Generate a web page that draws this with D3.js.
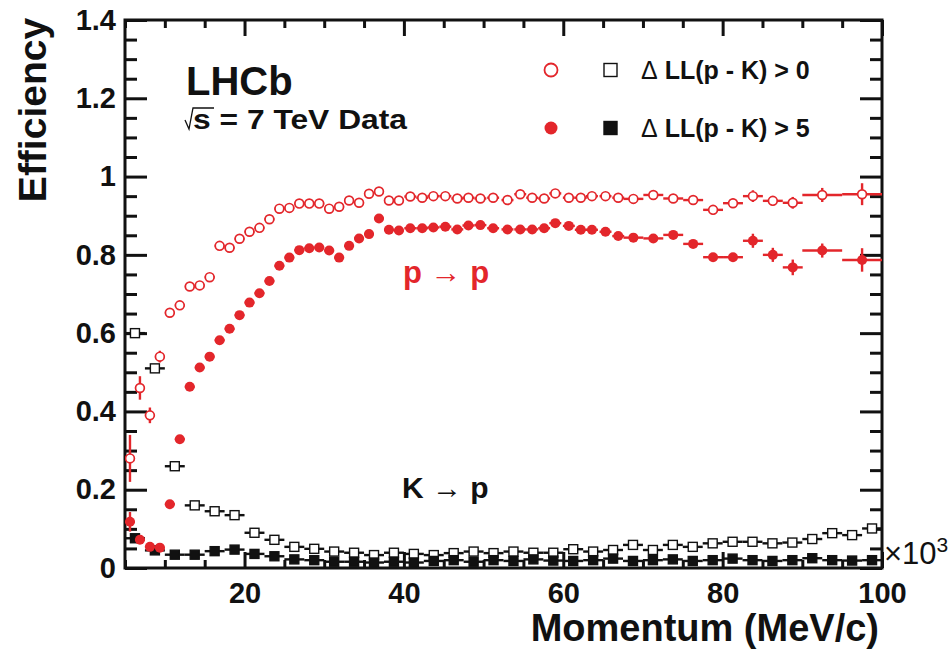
<!DOCTYPE html>
<html>
<head>
<meta charset="utf-8">
<script src="https://cdn.jsdelivr.net/npm/d3@7"></script>
<style>
  body { margin: 0; background: #fff; }
  text { font-family: "Liberation Sans", Arial, Helvetica, sans-serif; }
</style>
</head>
<body>
<svg id="chart" width="948" height="651"></svg>
<script>
// p -> p : bin centres (GeV/c), half widths, efficiencies and errors
const pMom = [5.625, 6.875, 8.125, 9.375, 10.625, 11.875, 13.125, 14.375, 15.625, 16.875,
  18.125, 19.375, 20.625, 21.875, 23.125, 24.375, 25.625, 26.875, 28.125, 29.375,
  30.625, 31.875, 33.125, 34.375, 35.625, 36.875, 38.125, 39.375,
  40.8, 42.3, 43.7, 45.2, 46.7, 48.1, 49.6, 51.2, 53.0, 54.6, 56.1, 57.6, 59.0, 60.7,
  62.2, 63.6, 65.3, 66.9, 68.8, 71.3, 73.8, 76.3, 78.8, 81.3, 83.8, 86.3, 88.8, 92.5, 97.5];
const pHalf = [0.625, 0.625, 0.625, 0.625, 0.625, 0.625, 0.625, 0.625, 0.625, 0.625,
  0.625, 0.625, 0.625, 0.625, 0.625, 0.625, 0.625, 0.625, 0.625, 0.625,
  0.625, 0.625, 0.625, 0.625, 0.625, 0.625, 0.625, 0.625,
  0.75, 0.75, 0.75, 0.75, 0.75, 0.75, 0.75, 0.75, 0.75, 0.75, 0.75, 0.75, 0.75, 0.75,
  0.75, 0.75, 0.75, 0.75, 1.25, 1.25, 1.25, 1.25, 1.25, 1.25, 1.25, 1.25, 1.25, 2.5, 2.5];
// DLL(p-K) > 0
const pEffLoose = [0.28, 0.46, 0.39, 0.54, 0.652, 0.671, 0.719, 0.722, 0.743, 0.823,
  0.818, 0.841, 0.859, 0.869, 0.891, 0.918, 0.920, 0.931, 0.931, 0.931,
  0.918, 0.923, 0.939, 0.933, 0.956, 0.962, 0.939, 0.939,
  0.949, 0.946, 0.950, 0.950, 0.944, 0.946, 0.944, 0.946, 0.940, 0.955, 0.946, 0.944, 0.957, 0.946,
  0.946, 0.950, 0.950, 0.946, 0.943, 0.953, 0.944, 0.940, 0.915, 0.932, 0.950, 0.938, 0.933, 0.953, 0.955];
const pErrLoose = [0.06, 0.03, 0.02, 0.015, 0.01, 0.01, 0.008, 0.008, 0.008, 0.008,
  0.008, 0.008, 0.008, 0.008, 0.008, 0.008, 0.008, 0.008, 0.008, 0.008,
  0.008, 0.008, 0.008, 0.008, 0.008, 0.008, 0.008, 0.008,
  0.006, 0.006, 0.006, 0.006, 0.006, 0.006, 0.006, 0.006, 0.006, 0.006, 0.006, 0.006, 0.006, 0.006,
  0.006, 0.006, 0.006, 0.006, 0.012, 0.01, 0.01, 0.01, 0.012, 0.012, 0.015, 0.012, 0.015, 0.018, 0.028];
// DLL(p-K) > 5
const pEffTight = [0.118, 0.072, 0.054, 0.052, 0.163, 0.329, 0.463, 0.512, 0.540, 0.582,
  0.611, 0.646, 0.678, 0.702, 0.733, 0.772, 0.793, 0.812, 0.817, 0.819,
  0.811, 0.793, 0.823, 0.842, 0.853, 0.893, 0.864, 0.862,
  0.868, 0.868, 0.870, 0.872, 0.865, 0.875, 0.876, 0.868, 0.865, 0.865, 0.865, 0.868, 0.881, 0.874,
  0.864, 0.864, 0.859, 0.848, 0.844, 0.842, 0.851, 0.828, 0.794, 0.794, 0.836, 0.800, 0.768, 0.811, 0.787];
const pErrTight = [0.025, 0.01, 0.008, 0.008, 0.01, 0.01, 0.01, 0.008, 0.008, 0.008,
  0.008, 0.008, 0.008, 0.008, 0.008, 0.008, 0.008, 0.008, 0.008, 0.008,
  0.008, 0.008, 0.008, 0.008, 0.008, 0.008, 0.008, 0.008,
  0.006, 0.006, 0.006, 0.006, 0.006, 0.006, 0.006, 0.006, 0.006, 0.006, 0.006, 0.006, 0.006, 0.006,
  0.006, 0.006, 0.006, 0.006, 0.008, 0.008, 0.008, 0.01, 0.008, 0.008, 0.018, 0.018, 0.02, 0.018, 0.03];

// K -> p : 2.5 GeV/c bins
const kMom = [6.25, 8.75, 11.25, 13.75, 16.25, 18.75, 21.25, 23.75, 26.25, 28.75,
  31.25, 33.75, 36.25, 38.75, 41.25, 43.75, 46.25, 48.75, 51.25, 53.75,
  56.25, 58.75, 61.25, 63.75, 66.25, 68.75, 71.25, 73.75, 76.25, 78.75,
  81.25, 83.75, 86.25, 88.75, 91.25, 93.75, 96.25, 98.75];
const kHalf = 1.25;
const kEffLoose = [0.60, 0.51, 0.26, 0.16, 0.145, 0.135, 0.090, 0.072, 0.054, 0.049,
  0.042, 0.039, 0.033, 0.039, 0.036, 0.033, 0.038, 0.042, 0.038, 0.042,
  0.039, 0.039, 0.048, 0.042, 0.046, 0.059, 0.046, 0.059, 0.054, 0.063,
  0.067, 0.067, 0.063, 0.065, 0.074, 0.089, 0.084, 0.101];
const kEffTight = [0.076, 0.045, 0.034, 0.034, 0.043, 0.047, 0.036, 0.030, 0.022, 0.020,
  0.016, 0.016, 0.014, 0.016, 0.014, 0.018, 0.020, 0.016, 0.020, 0.018,
  0.022, 0.019, 0.018, 0.020, 0.024, 0.018, 0.020, 0.022, 0.018, 0.020,
  0.024, 0.020, 0.018, 0.020, 0.025, 0.020, 0.019, 0.020];

const yTicks = [0, 0.2, 0.4, 0.6, 0.8, 1, 1.2, 1.4];
const yTickLabels = ["0", "0.2", "0.4", "0.6", "0.8", "1", "1.2", "1.4"];
const xTicks = [20, 40, 60, 80, 100];
const xTickLabels = ["20", "40", "60", "80", "100"];
const legendLabels = ["\u0394 LL(p - K) > 0", "\u0394 LL(p - K) > 5"];

const RED = "#e3262b";
const BLACK = "#111";

const svg = d3.select("#chart");
const x = d3.scaleLinear().domain([5, 100]).range([125, 882]);
const y = d3.scaleLinear().domain([0, 1.4]).range([568, 20]);

// axes (ticks point inward, ROOT style)
const minorX = d3.range(5, 101, 5).filter(v => v % 20 !== 0);
const minorY = d3.range(0, 1.401, 0.05).filter(v => Math.abs(v * 5 - Math.round(v * 5)) > 1e-6);

function styleAxis(g) {
  g.selectAll("path.domain").remove();
  g.selectAll(".tick line").attr("stroke", BLACK).attr("stroke-width", 3);
}
function styleLabels(g) {
  g.selectAll("text").attr("fill", BLACK).style("font-size", "29px")
    .style("font-weight", "bold").style("font-family", "'Liberation Sans', Arial, sans-serif");
}

svg.append("g").attr("transform", "translate(0,568)")
  .call(d3.axisBottom(x).tickValues(xTicks).tickFormat((d, i) => xTickLabels[i])
    .tickSizeInner(-16).tickSizeOuter(0).tickPadding(14))
  .call(styleAxis).call(styleLabels);
svg.append("g").attr("transform", "translate(0,568)")
  .call(d3.axisBottom(x).tickValues(minorX).tickFormat("").tickSizeInner(-8).tickSizeOuter(0))
  .call(styleAxis);
svg.append("g").attr("transform", "translate(0,20)")
  .call(d3.axisTop(x).tickValues(xTicks).tickFormat("").tickSizeInner(-16).tickSizeOuter(0))
  .call(styleAxis);
svg.append("g").attr("transform", "translate(0,20)")
  .call(d3.axisTop(x).tickValues(minorX).tickFormat("").tickSizeInner(-8).tickSizeOuter(0))
  .call(styleAxis);

svg.append("g").attr("transform", "translate(125,0)")
  .call(d3.axisLeft(y).tickValues(yTicks).tickFormat((d, i) => yTickLabels[i])
    .tickSizeInner(-22).tickSizeOuter(0).tickPadding(9))
  .call(styleAxis).call(styleLabels);
svg.append("g").attr("transform", "translate(125,0)")
  .call(d3.axisLeft(y).tickValues(minorY).tickFormat("").tickSizeInner(-12).tickSizeOuter(0))
  .call(styleAxis);
svg.append("g").attr("transform", "translate(882,0)")
  .call(d3.axisRight(y).tickValues(yTicks).tickFormat("").tickSizeInner(-22).tickSizeOuter(0))
  .call(styleAxis);
svg.append("g").attr("transform", "translate(882,0)")
  .call(d3.axisRight(y).tickValues(minorY).tickFormat("").tickSizeInner(-12).tickSizeOuter(0))
  .call(styleAxis);

// frame
svg.append("rect")
  .attr("x", x(5)).attr("y", y(1.4))
  .attr("width", x(100) - x(5)).attr("height", y(0) - y(1.4))
  .attr("fill", "none").attr("stroke", BLACK).attr("stroke-width", 3);

// data
svg.append("clipPath").attr("id", "plotclip").append("rect")
  .attr("x", x(5)).attr("y", y(1.4)).attr("width", x(100) - x(5)).attr("height", y(0) - y(1.4));
const plot = svg.append("g").attr("clip-path", "url(#plotclip)");

function drawSeries(mom, half, eff, err, color, shape, filled) {
  const pts = mom.map((m, i) => ({
    m, v: eff[i],
    h: Array.isArray(half) ? half[i] : half,
    e: err ? err[i] : 0
  }));
  const g = plot.append("g");
  g.selectAll("line.xe").data(pts).join("line")
    .attr("x1", d => x(d.m - d.h)).attr("x2", d => x(d.m + d.h))
    .attr("y1", d => y(d.v)).attr("y2", d => y(d.v))
    .attr("stroke", color).attr("stroke-width", 2.4);
  g.selectAll("line.ye").data(pts.filter(d => d.e > 0)).join("line")
    .attr("x1", d => x(d.m)).attr("x2", d => x(d.m))
    .attr("y1", d => y(d.v - d.e)).attr("y2", d => y(d.v + d.e))
    .attr("stroke", color).attr("stroke-width", 2.4);
  if (shape === "circle") {
    g.selectAll("circle").data(pts).join("circle")
      .attr("cx", d => x(d.m)).attr("cy", d => y(d.v))
      .attr("r", filled ? 5 : 4.4)
      .attr("fill", filled ? color : "#fff")
      .attr("stroke", color).attr("stroke-width", filled ? 0 : 1.7);
  } else {
    const s = 9;
    g.selectAll("rect").data(pts).join("rect")
      .attr("x", d => x(d.m) - s / 2).attr("y", d => y(d.v) - s / 2)
      .attr("width", s).attr("height", s)
      .attr("fill", filled ? color : "#fff")
      .attr("stroke", color).attr("stroke-width", 1.4);
  }
}

drawSeries(kMom, kHalf, kEffLoose, null, BLACK, "square", false);
drawSeries(kMom, kHalf, kEffTight, null, BLACK, "square", true);
drawSeries(pMom, pHalf, pEffLoose, pErrLoose, RED, "circle", false);
drawSeries(pMom, pHalf, pEffTight, pErrTight, RED, "circle", true);

// axis titles
svg.append("text")
  .attr("transform", "translate(46,110) rotate(-90)")
  .attr("text-anchor", "middle")
  .style("font-size", "39px").style("font-weight", "bold").attr("fill", BLACK)
  .text("Efficiency");
svg.append("text")
  .attr("x", 879).attr("y", 641).attr("text-anchor", "end")
  .style("font-size", "38px").style("font-weight", "bold").attr("fill", BLACK)
  .text("Momentum (MeV/c)");
const expo = svg.append("text").attr("x", 884).attr("y", 564)
  .style("font-size", "31px").attr("fill", BLACK);
expo.append("tspan").text("\u00d710");
expo.append("tspan").attr("dy", -12).style("font-size", "21px").text("3");

// LHCb labels
svg.append("text").attr("x", 186).attr("y", 95)
  .style("font-size", "40px").style("font-weight", "bold").attr("fill", BLACK).text("LHCb");
svg.append("path")
  .attr("d", "M185,120 L189,129 L193,108 L214,108")
  .attr("fill", "none").attr("stroke", BLACK).attr("stroke-width", 1.3);
svg.append("text").attr("x", 193).attr("y", 129)
  .attr("textLength", 214).attr("lengthAdjust", "spacingAndGlyphs")
  .style("font-size", "27px").style("font-weight", "bold").attr("fill", BLACK)
  .text("s = 7 TeV Data");

// channel labels
const pp = svg.append("text").attr("x", 403).attr("y", 283)
  .style("font-size", "31px").style("font-weight", "bold").attr("fill", RED);
pp.append("tspan").text("p ");
pp.append("tspan").style("font-weight", "normal").text("\u2192");
pp.append("tspan").text(" p");
const kp = svg.append("text").attr("x", 402).attr("y", 498)
  .style("font-size", "30px").style("font-weight", "bold").attr("fill", BLACK);
kp.append("tspan").text("K ");
kp.append("tspan").style("font-weight", "normal").text("\u2192");
kp.append("tspan").text(" p");

// legend
const legend = svg.append("g");
[70, 128].forEach((ly, i) => {
  const filled = i === 1;
  legend.append("circle").attr("cx", 551).attr("cy", ly).attr("r", 6.5)
    .attr("fill", filled ? RED : "#fff").attr("stroke", RED).attr("stroke-width", filled ? 0 : 1.8);
  legend.append("rect").attr("x", 604).attr("y", ly - 6.5).attr("width", 13).attr("height", 13)
    .attr("fill", filled ? BLACK : "#fff").attr("stroke", BLACK).attr("stroke-width", 1.4);
  const t = legend.append("text").attr("x", 641).attr("y", ly + 9)
    .style("font-size", "25px").style("font-weight", "bold").attr("fill", BLACK);
  t.append("tspan").style("font-weight", "normal").text(legendLabels[i].slice(0, 1));
  t.append("tspan").text(legendLabels[i].slice(1));
});
</script>
</body>
</html>
